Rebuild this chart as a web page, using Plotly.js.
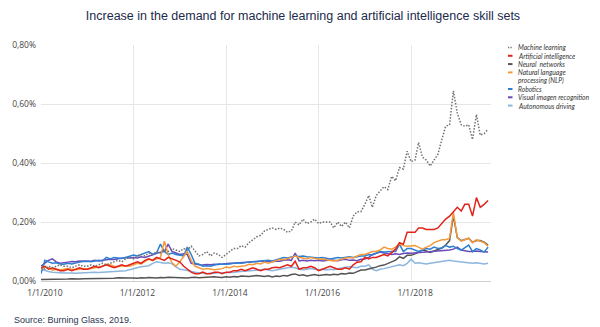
<!DOCTYPE html>
<html>
<head>
<meta charset="utf-8">
<script src="https://cdn.plot.ly/plotly-3.0.1.min.js"></script>
<style>
html,body{margin:0;padding:0;background:#fff;}
#chart{width:600px;height:327px;}
</style>
</head>
<body>
<div id="chart"></div>
<script>
// Monthly observation dates (first of month)
const months = [
"2010-01-01","2010-02-01","2010-03-01","2010-04-01","2010-05-01","2010-06-01","2010-07-01","2010-08-01","2010-09-01","2010-10-01","2010-11-01","2010-12-01",
"2011-01-01","2011-02-01","2011-03-01","2011-04-01","2011-05-01","2011-06-01","2011-07-01","2011-08-01","2011-09-01","2011-10-01","2011-11-01","2011-12-01",
"2012-01-01","2012-02-01","2012-03-01","2012-04-01","2012-05-01","2012-06-01","2012-07-01","2012-08-01","2012-09-01","2012-10-01","2012-11-01","2012-12-01",
"2013-01-01","2013-02-01","2013-03-01","2013-04-01","2013-05-01","2013-06-01","2013-07-01","2013-08-01","2013-09-01","2013-10-01","2013-11-01","2013-12-01",
"2014-01-01","2014-02-01","2014-03-01","2014-04-01","2014-05-01","2014-06-01","2014-07-01","2014-08-01","2014-09-01","2014-10-01","2014-11-01","2014-12-01",
"2015-01-01","2015-02-01","2015-03-01","2015-04-01","2015-05-01","2015-06-01","2015-07-01","2015-08-01","2015-09-01","2015-10-01","2015-11-01","2015-12-01",
"2016-01-01","2016-02-01","2016-03-01","2016-04-01","2016-05-01","2016-06-01","2016-07-01","2016-08-01","2016-09-01","2016-10-01","2016-11-01","2016-12-01",
"2017-01-01","2017-02-01","2017-03-01","2017-04-01","2017-05-01","2017-06-01","2017-07-01","2017-08-01","2017-09-01","2017-10-01","2017-11-01","2017-12-01",
"2018-01-01","2018-02-01","2018-03-01","2018-04-01","2018-05-01","2018-06-01","2018-07-01","2018-08-01","2018-09-01","2018-10-01","2018-11-01","2018-12-01",
"2019-01-01","2019-02-01","2019-03-01","2019-04-01","2019-05-01","2019-06-01","2019-07-01","2019-08-01","2019-09-01"
];

// Share of job postings (%)
const machineLearning = [
0.045,0.04,0.05,0.045,0.05,0.055,0.05,0.05,0.045,0.05,0.055,0.05,
0.05,0.055,0.05,0.055,0.06,0.055,0.06,0.065,0.07,0.065,0.075,0.08,
0.075,0.085,0.09,0.085,0.095,0.09,0.1,0.095,0.105,0.1,0.11,0.105,
0.1,0.11,0.105,0.118,0.1,0.085,0.09,0.1,0.085,0.095,0.09,0.08,
0.09,0.1,0.11,0.11,0.12,0.115,0.13,0.14,0.15,0.155,0.17,0.175,
0.18,0.175,0.18,0.175,0.165,0.17,0.2,0.19,0.21,0.195,0.2,0.21,
0.195,0.2,0.2,0.2,0.18,0.2,0.185,0.2,0.18,0.22,0.235,0.235,
0.26,0.29,0.25,0.29,0.305,0.32,0.31,0.355,0.34,0.385,0.38,0.44,
0.405,0.41,0.47,0.42,0.41,0.39,0.41,0.43,0.48,0.525,0.53,0.645,
0.57,0.53,0.525,0.53,0.48,0.565,0.495,0.5,0.515
];
const artificialIntelligence = [
0.045,0.05,0.04,0.045,0.04,0.035,0.035,0.04,0.035,0.04,0.045,0.04,
0.04,0.045,0.05,0.045,0.05,0.055,0.05,0.045,0.05,0.055,0.05,0.055,
0.06,0.065,0.06,0.07,0.075,0.07,0.08,0.075,0.07,0.08,0.075,0.07,
0.065,0.05,0.04,0.03,0.025,0.025,0.03,0.025,0.025,0.03,0.03,0.025,
0.03,0.03,0.035,0.035,0.04,0.035,0.04,0.045,0.04,0.035,0.04,0.04,
0.045,0.047,0.045,0.05,0.055,0.05,0.067,0.04,0.045,0.045,0.05,0.045,
0.035,0.04,0.045,0.05,0.045,0.04,0.04,0.045,0.04,0.055,0.064,0.065,
0.08,0.075,0.08,0.08,0.085,0.09,0.085,0.095,0.108,0.13,0.125,0.165,
0.165,0.165,0.18,0.18,0.175,0.175,0.175,0.18,0.195,0.21,0.22,0.233,
0.25,0.237,0.26,0.26,0.22,0.283,0.25,0.26,0.273
];
const neuralNetworks = [
0.005,0.005,0.007,0.006,0.005,0.007,0.006,0.007,0.008,0.007,0.007,0.008,
0.008,0.009,0.009,0.008,0.01,0.009,0.01,0.009,0.011,0.01,0.011,0.01,
0.01,0.009,0.011,0.01,0.012,0.011,0.01,0.012,0.011,0.013,0.012,0.011,
0.012,0.011,0.01,0.012,0.013,0.011,0.012,0.013,0.012,0.014,0.013,0.012,
0.014,0.013,0.015,0.014,0.017,0.016,0.015,0.017,0.019,0.017,0.015,0.018,
0.014,0.017,0.015,0.019,0.017,0.022,0.024,0.019,0.021,0.017,0.02,0.022,
0.019,0.021,0.022,0.02,0.023,0.021,0.025,0.024,0.027,0.026,0.032,0.037,
0.037,0.042,0.044,0.047,0.052,0.054,0.06,0.065,0.071,0.082,0.077,0.087,
0.087,0.092,0.097,0.105,0.102,0.097,0.102,0.107,0.112,0.122,0.137,0.222,
0.147,0.137,0.142,0.145,0.132,0.137,0.137,0.132,0.122
];
const nlp = [
0.04,0.047,0.045,0.037,0.04,0.038,0.04,0.042,0.04,0.038,0.04,0.042,
0.04,0.042,0.045,0.047,0.05,0.057,0.055,0.05,0.048,0.052,0.05,0.05,
0.055,0.06,0.058,0.065,0.074,0.07,0.075,0.08,0.135,0.09,0.062,0.05,
0.065,0.085,0.1,0.07,0.05,0.045,0.04,0.042,0.04,0.038,0.04,0.042,
0.047,0.045,0.05,0.048,0.05,0.052,0.057,0.055,0.06,0.058,0.064,0.06,
0.065,0.07,0.074,0.072,0.075,0.08,0.085,0.08,0.078,0.075,0.08,0.078,
0.074,0.075,0.072,0.07,0.068,0.07,0.075,0.078,0.08,0.078,0.085,0.09,
0.09,0.095,0.1,0.1,0.105,0.115,0.11,0.108,0.115,0.125,0.12,0.118,
0.12,0.12,0.115,0.108,0.115,0.12,0.13,0.135,0.14,0.14,0.145,0.233,
0.148,0.135,0.14,0.145,0.13,0.14,0.135,0.13,0.118
];
const robotics = [
0.025,0.07,0.065,0.06,0.062,0.058,0.057,0.06,0.058,0.062,0.064,0.066,
0.067,0.065,0.068,0.07,0.068,0.08,0.075,0.08,0.078,0.076,0.08,0.085,
0.088,0.085,0.09,0.093,0.1,0.09,0.095,0.125,0.1,0.09,0.095,0.09,
0.088,0.085,0.115,0.09,0.06,0.057,0.05,0.052,0.05,0.055,0.058,0.057,
0.057,0.058,0.06,0.062,0.06,0.063,0.064,0.065,0.066,0.068,0.067,0.07,
0.068,0.072,0.075,0.08,0.078,0.082,0.085,0.083,0.085,0.082,0.08,0.08,
0.078,0.08,0.078,0.075,0.077,0.08,0.078,0.08,0.082,0.08,0.083,0.085,
0.085,0.09,0.088,0.095,0.1,0.098,0.1,0.1,0.1,0.125,0.1,0.11,
0.11,0.105,0.1,0.105,0.11,0.108,0.115,0.11,0.112,0.12,0.115,0.118,
0.11,0.105,0.112,0.122,0.1,0.11,0.105,0.098,0.115
];
const visualRecognition = [
0.05,0.06,0.07,0.075,0.065,0.06,0.063,0.064,0.066,0.065,0.068,0.067,
0.068,0.067,0.07,0.068,0.07,0.072,0.074,0.073,0.076,0.078,0.08,0.078,
0.08,0.078,0.082,0.08,0.085,0.09,0.095,0.098,0.1,0.125,0.1,0.095,
0.09,0.092,0.09,0.06,0.057,0.055,0.054,0.056,0.055,0.057,0.056,0.058,
0.058,0.06,0.06,0.061,0.063,0.062,0.064,0.065,0.066,0.067,0.068,0.067,
0.065,0.068,0.067,0.07,0.072,0.07,0.095,0.068,0.07,0.068,0.07,0.069,
0.07,0.068,0.07,0.071,0.07,0.069,0.072,0.074,0.07,0.071,0.069,0.074,
0.075,0.08,0.09,0.095,0.098,0.095,0.092,0.09,0.092,0.09,0.093,0.095,
0.094,0.095,0.096,0.097,0.097,0.098,0.1,0.1,0.102,0.104,0.105,0.108,
0.115,0.105,0.102,0.1,0.1,0.102,0.1,0.098,0.098
];
const autonomousDriving = [
0.04,0.035,0.032,0.03,0.03,0.028,0.027,0.028,0.027,0.026,0.027,0.028,
0.028,0.029,0.03,0.029,0.03,0.031,0.032,0.031,0.033,0.034,0.035,0.038,
0.042,0.045,0.048,0.05,0.052,0.06,0.065,0.063,0.06,0.062,0.058,0.048,
0.04,0.038,0.035,0.033,0.03,0.028,0.026,0.025,0.027,0.026,0.028,0.027,
0.028,0.03,0.029,0.031,0.032,0.033,0.035,0.034,0.036,0.038,0.04,0.038,
0.035,0.037,0.04,0.042,0.045,0.047,0.045,0.04,0.038,0.04,0.042,0.04,
0.038,0.04,0.037,0.04,0.038,0.042,0.045,0.047,0.048,0.047,0.045,0.05,
0.05,0.055,0.04,0.035,0.04,0.042,0.045,0.047,0.05,0.055,0.052,0.06,
0.074,0.06,0.062,0.06,0.058,0.06,0.062,0.064,0.066,0.068,0.07,0.068,
0.066,0.064,0.063,0.062,0.06,0.062,0.06,0.058,0.06
];

const seriesNames = ["Machine learning","Artificial intelligence","Neural  networks","Natural language<br>processing (NLP)","Robotics","Visual imagen recognition","Autonomous driving"];
const seriesValues = [machineLearning, artificialIntelligence, neuralNetworks, nlp, robotics, visualRecognition, autonomousDriving];
const seriesColors = ["#707070","#e2231a","#555555","#f39b3c","#2c7fd2","#6a4bb8","#8cb6de"];
const xTickVals = ["2010-01-01","2012-01-01","2014-01-01","2016-01-01","2018-01-01"];
const yTickVals = [0, 0.2, 0.4, 0.6, 0.8];
const yTickText = ["0,00%","0,20%","0,40%","0,60%","0,80%"];

// drawing order (bottom -> top)
const drawOrder = [6,2,5,4,3,1,0];
const traces = drawOrder.map(i => ({
  type: "scatter", mode: "lines", x: months, y: seriesValues[i],
  name: seriesNames[i], showlegend: false, hoverinfo: "skip",
  line: {color: seriesColors[i], width: i === 0 ? 1.5 : 1.5, dash: i === 0 ? "1.5px,1.6px" : "solid"}
}));

// geometry helpers (pixel -> paper)
const L = 41, R = 491, T = 45, B = 281;
const px = x => (x - L) / (R - L);
const py = y => (B - y) / (B - T);

const annotations = [];
const shapes = [];
let rowY = 47.5;
const rowStep = 8.3;
seriesNames.forEach((name, i) => {
  const lines = name.split("<br>");
  shapes.push({type: "line", xref: "paper", yref: "paper",
    x0: px(508), x1: px(512.5), y0: py(rowY), y1: py(rowY),
    line: {color: seriesColors[i], width: i === 0 ? 1.5 : 2, dash: i === 0 ? "1.2px,1.3px" : "solid"}});
  lines.forEach(t => {
    annotations.push({xref: "paper", yref: "paper", x: px(515.5), y: py(rowY),
      xanchor: "left", yanchor: "middle", showarrow: false, text: "<i>" + t + "</i>",
      font: {family: "Lato, 'Open Sans', sans-serif", size: 6.7, color: "#333333"}});
    rowY += rowStep;
  });
});
annotations.push({xref: "paper", yref: "paper", x: px(12), y: py(320), xanchor: "left", yanchor: "middle",
  showarrow: false, text: "Source: Burning Glass, 2019.",
  font: {family: "'Liberation Sans', Arial, sans-serif", size: 9, color: "#2b3550"}});

const layout = {
  width: 600, height: 327,
  margin: {l: L, r: 600 - R, t: T, b: 327 - B},
  paper_bgcolor: "#ffffff", plot_bgcolor: "#ffffff",
  title: {text: "Increase in the demand for machine learning and artificial intelligence skill sets",
    x: 0.505, xref: "container", xanchor: "center", y: 1 - 16/327, yref: "container", yanchor: "middle",
    font: {family: "'Liberation Sans', Arial, sans-serif", size: 12.5, color: "#1b2a4c"}},
  xaxis: {type: "date", range: ["2010-01-01", "2019-09-24"], tickvals: xTickVals, tickformat: "%-m/%-d/%Y",
    showgrid: true, gridcolor: "#e6e6e6", gridwidth: 1, zeroline: false,
    showline: true, linecolor: "#cfcfcf", linewidth: 1, ticks: "",
    ticklabelstandoff: 4, ticklabelshift: 4,
    tickfont: {family: "'Open Sans', sans-serif", size: 8.5, color: "#444444"}},
  yaxis: {range: [0, 0.8005], tickmode: "array", tickvals: yTickVals, ticktext: yTickText,
    showgrid: true, gridcolor: "#e6e6e6", gridwidth: 1, zeroline: false, showline: false, ticks: "",
    ticklabelstandoff: 4,
    tickfont: {family: "'Open Sans', sans-serif", size: 8.5, color: "#444444"}},
  showlegend: false,
  annotations: annotations,
  shapes: shapes
};

Plotly.newPlot("chart", traces, layout, {staticPlot: true, displayModeBar: false});
</script>
</body>
</html>
